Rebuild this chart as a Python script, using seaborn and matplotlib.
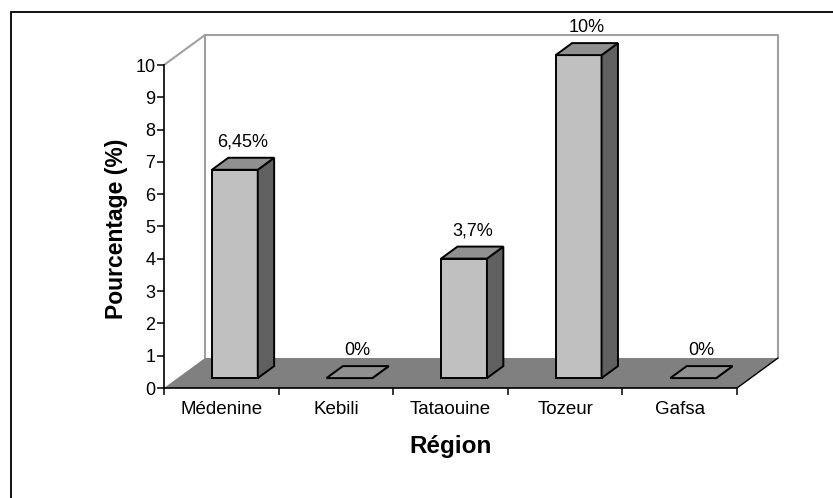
import numpy as np
import pandas as pd
import matplotlib
matplotlib.use("Agg")
import matplotlib.pyplot as plt
import seaborn as sns
from matplotlib.patches import Polygon, Rectangle
from matplotlib.lines import Line2D

# Data
regions = ["Médenine", "Kebili", "Tataouine", "Tozeur", "Gafsa"]
pourcentages = [6.45, 0.0, 3.7, 10.0, 0.0]
y_ticks = [0, 1, 2, 3, 4, 5, 6, 7, 8, 9, 10]
x_title = "Région"
y_title = "Pourcentage (%)"

sns.set_theme(style="white")
plt.rcParams["font.family"] = ["Liberation Sans", "DejaVu Sans"]

W, H = 833, 498
fig = plt.figure(figsize=(W / 100, H / 100), dpi=100)
fig.patch.set_facecolor("white")
ax = fig.add_axes([164 / W, 1 - 388 / H, 573 / W, 323 / H])
ax.patch.set_alpha(0)

df = pd.DataFrame({"Région": regions, "Pourcentage": pourcentages})
sns.barplot(data=df, x="Région", y="Pourcentage", color="#C0C0C0",
            saturation=1, width=0.40, edgecolor="black", linewidth=1.4,
            ax=ax, zorder=3)

ax.set_xlim(-0.5, len(regions) - 0.5)
ax.set_ylim(0, 10)

# depth of the 3D box (pixels -> data units)
origin = ax.transData.transform((0, 0))
ddx, ddy = ax.transData.inverted().transform(origin + np.array([41, 30]))
front_f, depth_f = 0.33, 0.40
x_lo, x_hi = -0.5, len(regions) - 0.5

bars = sorted(ax.patches, key=lambda p: p.get_x())

# walls
wall = dict(color="#A0A0A0", lw=1.5, clip_on=False, zorder=0.5)
ax.add_line(Line2D([x_lo + ddx, x_lo + ddx, x_hi + ddx, x_hi + ddx],
                   [ddy, 10 + ddy, 10 + ddy, ddy], **wall))
ax.add_line(Line2D([x_lo, x_lo + ddx], [10, 10 + ddy], **wall))

# floor
floor = Polygon([(x_lo, 0), (x_hi, 0), (x_hi + ddx, ddy), (x_lo + ddx, ddy)],
                closed=True, facecolor="#808080", edgecolor="none",
                clip_on=False, zorder=1)
ax.add_patch(floor)
ax.add_line(Line2D([x_hi, x_hi + ddx], [0, ddy], color="black", lw=1.0,
                   clip_on=False, zorder=1.5))

# 3D faces and value labels
bdx, bdy = depth_f * ddx, depth_f * ddy
for p, v in zip(bars, pourcentages):
    x0, w, h = p.get_x(), p.get_width(), p.get_height()
    fx, fy = x0 + front_f * ddx, front_f * ddy
    p.set_x(fx)
    p.set_y(fy)
    p.set_clip_on(False)
    top = Polygon([(fx, fy + h), (fx + w, fy + h),
                   (fx + w + bdx, fy + h + bdy), (fx + bdx, fy + h + bdy)],
                  closed=True, facecolor="#909090", edgecolor="black",
                  lw=1.4, joinstyle="miter", clip_on=False, zorder=3)
    side = Polygon([(fx + w, fy), (fx + w, fy + h),
                    (fx + w + bdx, fy + h + bdy), (fx + w + bdx, fy + bdy)],
                   closed=True, facecolor="#606060", edgecolor="black",
                   lw=1.4, joinstyle="miter", clip_on=False, zorder=3)
    ax.add_patch(side)
    ax.add_patch(top)
    label = f"{v:g}".replace(".", ",") + "%"
    ax.annotate(label, xy=(fx + w / 2 + bdx / 2, fy + h + bdy),
                xytext=(0, 5), textcoords="offset points",
                ha="center", va="bottom", fontsize=13, color="black",
                annotation_clip=False)

# axes styling
for s in ["top", "right"]:
    ax.spines[s].set_visible(False)
for s in ["left", "bottom"]:
    ax.spines[s].set_color("black")
    ax.spines[s].set_linewidth(1.2)
    ax.spines[s].set_zorder(2)

ax.set_yticks(y_ticks)
ax.set_yticklabels([str(t) for t in y_ticks])
ax.tick_params(axis="y", which="major", direction="out", length=5, width=1.1,
               color="black", pad=1.2, labelsize=13, labelcolor="black",
               left=True)
ax.set_xticks(range(len(regions)))
ax.set_xticklabels(regions)
ax.set_xticks(np.arange(-0.5, len(regions)), minor=True)
ax.tick_params(axis="x", which="major", length=0, pad=9.5, labelsize=13.5,
               labelcolor="black")
ax.tick_params(axis="x", which="minor", direction="out", length=5, width=1.1,
               color="black", bottom=True)

ax.set_xlabel(x_title, fontsize=17.5, fontweight="bold", color="black")
ax.set_ylabel(y_title, fontsize=16.5, fontweight="bold", color="black")
ax.xaxis.set_label_coords(0.5, (388 - 446) / 323)
ax.xaxis.label.set_va("center")
ax.yaxis.set_label_coords((117 - 164) / 573, 0.492)
ax.yaxis.label.set_va("center")

# chart area border
fig.add_artist(Rectangle((11 / W, -0.5), 2.0, 0.5 + 1 - 12 / H, fill=False,
                         edgecolor="black", lw=1.3, transform=fig.transFigure,
                         clip_on=False))

fig.savefig("out.png", dpi=100)
